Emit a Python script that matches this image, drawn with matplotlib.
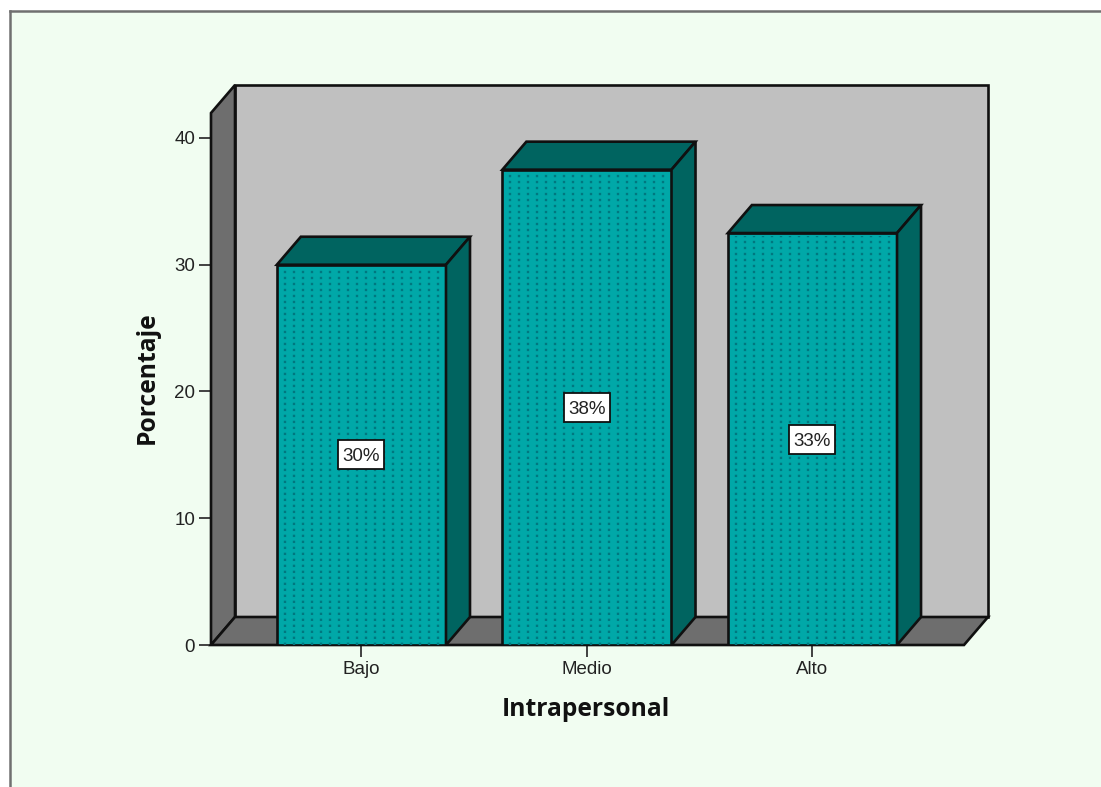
import matplotlib
matplotlib.use('Agg')
import numpy as np
import matplotlib.pyplot as plt
from matplotlib.patches import Rectangle

categories = ['Bajo', 'Medio', 'Alto']
porcentajes = [30.0, 37.5, 32.5]
etiquetas = ['30%', '38%', '33%']
y_ticks = [0, 10, 20, 30, 40]

WALL = '#c0c0c0'
SIDE = '#6e6e6e'
BAR = '#00a8a8'
BAR_DARK = '#006460'
DOTS = '#007880'
LINE = '#101010'
BG = '#f1fdf1'

plt.rcParams['font.family'] = ['Liberation Sans', 'DejaVu Sans']

fig = plt.figure(figsize=(11.01, 7.87), dpi=100)
W, H = 1101.0, 787.0

# panel with the grey frame on top and left only
fig.add_artist(Rectangle((10 / W, 0), 1, 1 - 11 / H, transform=fig.transFigure,
                         facecolor=BG, edgecolor='none', zorder=-5))
fig.add_artist(plt.Line2D([10 / W, 1], [1 - 11 / H, 1 - 11 / H], color='#707070', lw=1.8, zorder=-4))
fig.add_artist(plt.Line2D([10 / W, 10 / W], [0, 1 - 11 / H], color='#707070', lw=1.8, zorder=-4))

ax = fig.add_axes([211 / W, 1 - 645 / H, (964 - 211) / W, (645 - 113) / H])
ax.patch.set_alpha(0)
ax.set_xlim(-0.667, 2.672)
ax.set_ylim(0, 41.97)
for s in ax.spines.values():
    s.set_visible(False)

# one pixel in data units, used for the fake 3d depth and the dot texture
px = 1 / 225.5
py = 1 / 12.675
dx = 24 * px
dy = 28 * py
x0, x1 = ax.get_xlim()
y0, y1 = ax.get_ylim()
lw = 1.9

ax.fill([x0 + dx, x1 + dx, x1 + dx, x0 + dx], [y0 + dy, y0 + dy, y1 + dy, y1 + dy],
        facecolor=WALL, edgecolor=LINE, lw=lw, clip_on=False, zorder=1)
ax.fill([x0, x0 + dx, x0 + dx, x0], [y0, y0 + dy, y1 + dy, y1],
        facecolor=SIDE, edgecolor=LINE, lw=lw, clip_on=False, zorder=2)
ax.fill([x0, x1, x1 + dx, x0 + dx], [y0, y0, y0 + dy, y0 + dy],
        facecolor=SIDE, edgecolor=LINE, lw=lw, clip_on=False, zorder=2)

w = 0.75
for i, v in enumerate(porcentajes):
    l, r = i - w / 2, i + w / 2
    ax.bar(i, v, width=w, facecolor=BAR, edgecolor=LINE, lw=lw, zorder=3)
    # dotted texture of the SPSS fill
    ax.vlines(np.arange(l + 8 * px, r - 4 * px, 9 * px), 0, v - 3 * py, colors=DOTS,
              linestyles=(0, (1, 1.54)), lw=1.7, zorder=3.5)
    ax.fill([l, r, r + dx, l + dx], [v, v, v + dy, v + dy],
            facecolor=BAR_DARK, edgecolor=LINE, lw=lw, zorder=4)
    ax.fill([r, r + dx, r + dx, r], [0, dy, v + dy, v],
            facecolor=BAR_DARK, edgecolor=LINE, lw=lw, zorder=4)
    ax.add_patch(Rectangle((i - 23 * px, v / 2 - 14.5 * py), 46 * px, 29 * py,
                           facecolor='white', edgecolor=LINE, lw=1.3, zorder=5))
    ax.text(i, v / 2, etiquetas[i], ha='center', va='center_baseline', fontsize=13.5,
            color='#222222', zorder=6)

ax.set_xticks(range(len(categories)))
ax.set_xticklabels(categories)
ax.set_yticks(y_ticks)
ax.tick_params(axis='both', length=8.5, width=1.3, color='#333333', labelsize=13.5,
               labelcolor='#222222', pad=3)

fig.text(586 / W, 1 - 709 / H, 'Intrapersonal', ha='center', va='center',
         fontsize=17.7, fontweight='bold', color='#111111', family='Open Sans')
fig.text(147 / W, 1 - 378 / H, 'Porcentaje', ha='center', va='center', rotation=90,
         fontsize=17.7, fontweight='bold', color='#111111', family='Open Sans')

fig.savefig('out.png', dpi=100, facecolor='white')
